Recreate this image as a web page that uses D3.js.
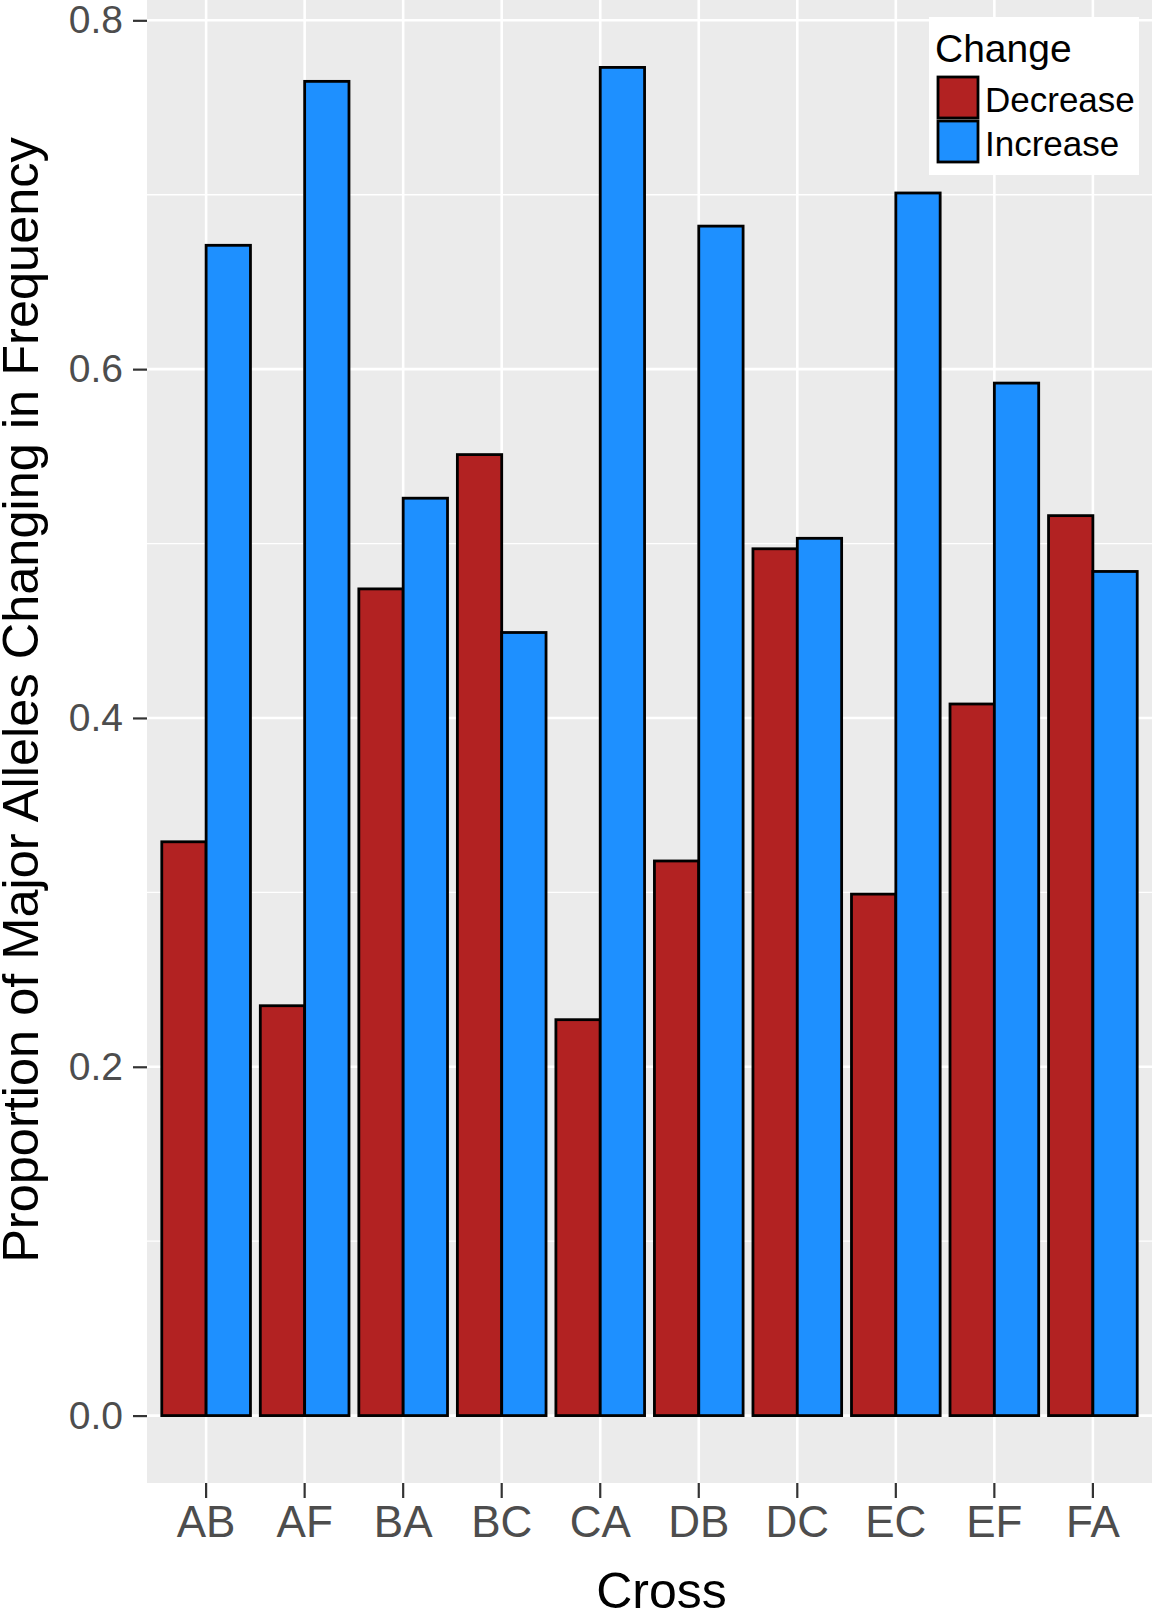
<!DOCTYPE html>
<html>
<head>
<meta charset="utf-8">
<script src="https://cdn.jsdelivr.net/npm/d3@7"></script>
<style>
  html, body { margin: 0; padding: 0; background: #fff; }
  svg { display: block; }
  text { font-family: "Liberation Sans", Arial, Helvetica, sans-serif; }
</style>
</head>
<body>
<svg id="chart" width="1152" height="1609"></svg>
<script>
// ---- data ----
const categories = ["AB", "AF", "BA", "BC", "CA", "DB", "DC", "EC", "EF", "FA"];
const seriesNames = ["Decrease", "Increase"];
const decreaseValues = [0.329, 0.235, 0.474, 0.551, 0.227, 0.318, 0.497, 0.299, 0.408, 0.516];
const increaseValues = [0.671, 0.765, 0.526, 0.449, 0.773, 0.682, 0.503, 0.701, 0.592, 0.484];
const yTicks = [0.0, 0.2, 0.4, 0.6, 0.8];
const yMinorTicks = [0.1, 0.3, 0.5, 0.7];
const seriesColors = ["#B22222", "#1E90FF"];

const table = categories.map((c, i) => ({
  cross: c,
  values: [
    { key: seriesNames[0], value: decreaseValues[i] },
    { key: seriesNames[1], value: increaseValues[i] }
  ]
}));

// ---- layout ----
const panel = { left: 147, right: 1152, top: 0, bottom: 1483 };
const svg = d3.select("#chart");

const maxVal = d3.max(increaseValues.concat(decreaseValues));
const ext = maxVal * 0.05;
const y = d3.scaleLinear().domain([-ext, maxVal + ext]).range([panel.bottom, panel.top]);

const x = d3.scaleBand().domain(categories).range([panel.left, panel.right])
  .paddingInner(0.1).paddingOuter(0.15);
const xInner = d3.scaleBand().domain(seriesNames).range([0, x.bandwidth()]).padding(0);
const color = d3.scaleOrdinal().domain(seriesNames).range(seriesColors);

// panel background
svg.append("rect")
  .attr("x", panel.left).attr("y", panel.top)
  .attr("width", panel.right - panel.left).attr("height", panel.bottom - panel.top)
  .attr("fill", "#EBEBEB");

// minor grid
svg.append("g").selectAll("line").data(yMinorTicks).join("line")
  .attr("x1", panel.left).attr("x2", panel.right)
  .attr("y1", d => y(d)).attr("y2", d => y(d))
  .attr("stroke", "#fff").attr("stroke-width", 1.3);

// major grid
svg.append("g").selectAll("line").data(yTicks).join("line")
  .attr("x1", panel.left).attr("x2", panel.right)
  .attr("y1", d => y(d)).attr("y2", d => y(d))
  .attr("stroke", "#fff").attr("stroke-width", 2.6);

svg.append("g").selectAll("line").data(categories).join("line")
  .attr("x1", d => x(d) + x.bandwidth() / 2).attr("x2", d => x(d) + x.bandwidth() / 2)
  .attr("y1", panel.top).attr("y2", panel.bottom)
  .attr("stroke", "#fff").attr("stroke-width", 2.6);

// bars
const groups = svg.append("g").selectAll("g").data(table).join("g")
  .attr("transform", d => `translate(${x(d.cross)},0)`);
groups.selectAll("rect").data(d => d.values).join("rect")
  .attr("x", d => xInner(d.key))
  .attr("width", xInner.bandwidth())
  .attr("y", d => y(d.value))
  .attr("height", d => y(0) - y(d.value))
  .attr("fill", d => color(d.key))
  .attr("stroke", "#000")
  .attr("stroke-width", 2.8);

// y axis
const yAxis = d3.axisLeft(y).tickValues(yTicks).tickFormat(d3.format(".1f"))
  .tickSize(14).tickPadding(10);
const gy = svg.append("g").attr("transform", `translate(${panel.left},0)`).call(yAxis);
gy.select(".domain").remove();
gy.selectAll(".tick line").attr("stroke", "#333").attr("stroke-width", 2.2);
gy.selectAll(".tick text").attr("fill", "#4D4D4D")
  .style("font-size", "39px").style("font-family", "'Liberation Sans', Arial, sans-serif");

// x axis
const xAxis = d3.axisBottom(x).tickSize(15).tickPadding(8);
const gx = svg.append("g").attr("transform", `translate(0,${panel.bottom})`).call(xAxis);
gx.select(".domain").remove();
gx.selectAll(".tick line").attr("stroke", "#333").attr("stroke-width", 2.2);
gx.selectAll(".tick text").attr("fill", "#4D4D4D")
  .style("font-size", "44px").style("font-family", "'Liberation Sans', Arial, sans-serif");

// axis titles
svg.append("text")
  .attr("x", (panel.left + panel.right) / 2 + 12).attr("y", 1608)
  .attr("text-anchor", "middle")
  .style("font-size", "50px").attr("fill", "#000")
  .text("Cross");

svg.append("text")
  .attr("transform", "translate(38,700) rotate(-90)")
  .attr("text-anchor", "middle")
  .style("font-size", "50.5px").attr("fill", "#000")
  .text("Proportion of Major Alleles Changing in Frequency");

// legend
const lg = svg.append("g");
lg.append("rect").attr("x", 929).attr("y", 17).attr("width", 210).attr("height", 158).attr("fill", "#fff");
lg.append("text").attr("x", 935).attr("y", 62).style("font-size", "39px").attr("fill", "#000").text("Change");
seriesNames.forEach((s, i) => {
  lg.append("rect")
    .attr("x", 938).attr("y", 77 + i * 44)
    .attr("width", 40).attr("height", 41)
    .attr("fill", color(s)).attr("stroke", "#000").attr("stroke-width", 2.8);
  lg.append("text")
    .attr("x", 985).attr("y", 112 + i * 44)
    .style("font-size", "35px").attr("fill", "#000").text(s);
});
</script>
</body>
</html>
